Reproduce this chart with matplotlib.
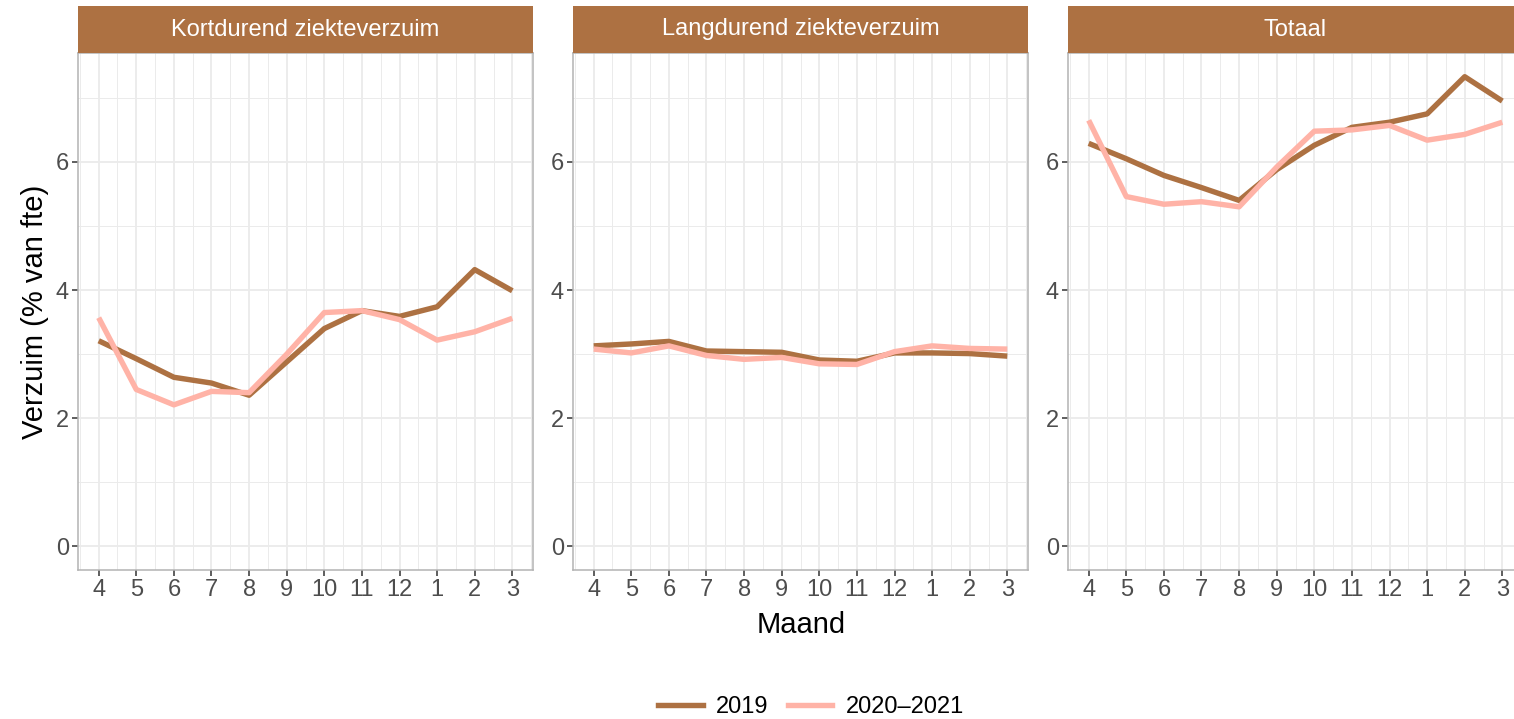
import matplotlib
matplotlib.use("Agg")
import matplotlib.pyplot as plt
from matplotlib.lines import Line2D

plt.rcParams['font.family'] = ['Liberation Sans', 'DejaVu Sans']

months = ["4", "5", "6", "7", "8", "9", "10", "11", "12", "1", "2", "3"]
panels = ["Kortdurend ziekteverzuim", "Langdurend ziekteverzuim", "Totaal"]

# 2019
kort_2019 = [3.21, 2.93, 2.64, 2.55, 2.36, 2.88, 3.40, 3.68, 3.59, 3.74, 4.32, 3.99]
lang_2019 = [3.13, 3.16, 3.20, 3.05, 3.04, 3.03, 2.91, 2.89, 3.02, 3.02, 3.01, 2.97]
tot_2019 = [6.29, 6.05, 5.79, 5.60, 5.40, 5.88, 6.26, 6.54, 6.62, 6.75, 7.33, 6.95]
# 2020-2021
kort_2021 = [3.57, 2.45, 2.21, 2.42, 2.40, 3.00, 3.65, 3.68, 3.54, 3.22, 3.35, 3.56]
lang_2021 = [3.08, 3.02, 3.13, 2.98, 2.92, 2.95, 2.85, 2.84, 3.04, 3.13, 3.09, 3.08]
tot_2021 = [6.65, 5.46, 5.34, 5.38, 5.30, 5.92, 6.48, 6.50, 6.57, 6.34, 6.43, 6.62]

series_2019 = [kort_2019, lang_2019, tot_2019]
series_2021 = [kort_2021, lang_2021, tot_2021]

c2019 = "#AD7142"
c2021 = "#FFB3A7"
strip_col = "#AD7142"

W, H = 1514, 719
fig = plt.figure(figsize=(W / 100, H / 100), dpi=100)

lefts = [78, 573, 1068]
pw = 455
top, bottom = 53, 570
strip_top = 6
lw = 3.9

x = list(range(len(months)))
for i, name in enumerate(panels):
    ax = fig.add_axes([lefts[i] / W, (H - bottom) / H, pw / W, (bottom - top) / H])
    ax.set_xlim(-0.55, 11.55)
    ax.set_ylim(-0.367, 7.70)
    ax.set_xticks(x)
    ax.set_xticklabels(months)
    ax.set_xticks([v + 0.5 for v in x[:-1]] + [-0.5, 11.5], minor=True)
    ax.set_yticks([0, 2, 4, 6])
    ax.set_yticks([1, 3, 5, 7], minor=True)
    ax.grid(True, which="major", color="#EBEBEB", linewidth=1.3)
    ax.grid(True, which="minor", color="#EBEBEB", linewidth=0.7)
    ax.set_axisbelow(True)
    for s in ax.spines.values():
        s.set_color("#B3B3B3")
        s.set_linewidth(1.1)
    ax.tick_params(which="major", length=4.5, width=1.1, color="#333333",
                   labelsize=17, labelcolor="#4D4D4D", pad=2)
    ax.tick_params(which="minor", length=0)
    ax.plot(x, series_2019[i], color=c2019, linewidth=lw, solid_capstyle="butt")
    ax.plot(x, series_2021[i], color=c2021, linewidth=lw, solid_capstyle="butt")

    # strip
    sax = fig.add_axes([lefts[i] / W, (H - top) / H, pw / W, (top - strip_top) / H])
    sax.set_facecolor(strip_col)
    sax.set_xticks([])
    sax.set_yticks([])
    for s in sax.spines.values():
        s.set_visible(False)
    sax.text(0.5, 0.5, name, color="white", fontsize=17, ha="center", va="center",
             transform=sax.transAxes)

fig.text(35 / W, 1 - 312 / H, "Verzuim (% van fte)", rotation=90, fontsize=21,
         ha="center", va="center")
fig.text(801 / W, 1 - 625 / H, "Maand", fontsize=21, ha="center", va="center")

handles = [Line2D([], [], color=c2019, linewidth=lw),
           Line2D([], [], color=c2021, linewidth=lw)]
fig.legend(handles, ["2019", "2020\u20132021"], loc="center", ncol=2,
           bbox_to_anchor=(811 / W, 1 - 707 / H), frameon=False, fontsize=17,
           handlelength=1.9, columnspacing=0.8, handletextpad=0.55)

fig.savefig("out.png", dpi=100)
